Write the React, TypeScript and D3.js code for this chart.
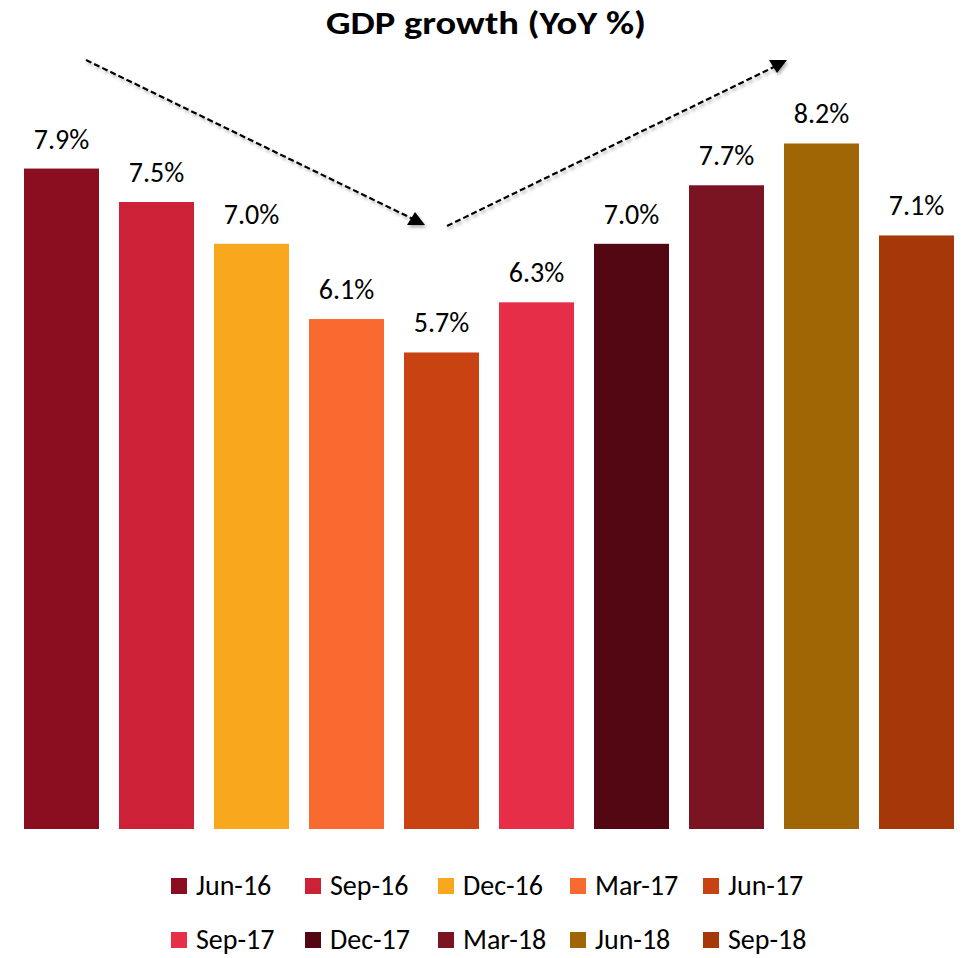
import React from "react";
import * as d3 from "d3";

const categories = ["Jun-16", "Sep-16", "Dec-16", "Mar-17", "Jun-17", "Sep-17", "Dec-17", "Mar-18", "Jun-18", "Sep-18"];
const values = [7.9, 7.5, 7.0, 6.1, 5.7, 6.3, 7.0, 7.7, 8.2, 7.1];
const colors = ["#8B0D20", "#CC2136", "#F9A81E", "#F96A30", "#C94212", "#E62E48", "#530712", "#7B1422", "#A06504", "#A53709"];
const title = "GDP growth (YoY %)";

const W = 966;
const H = 958;
const FONT = "Carlito, Lato, 'Open Sans', sans-serif";

export default function App() {
  const x = d3.scaleBand<string>().domain(categories).range([14, 964]).paddingInner(0.2105).paddingOuter(0.1053);
  const y = d3.scaleLinear().domain([0, 9]).range([829, 829 - 9 * 83.6]);

  const legendRows = [categories.slice(0, 5), categories.slice(5)];
  const colX = [171, 305, 438, 570, 703];
  const rowY = [886, 940];

  return (
    <svg width={W} height={H} style={{ position: "absolute", left: 0, top: 0, background: "#fff" }}>
      <defs>
        <filter id="sh" x="-10%" y="-10%" width="120%" height="120%">
          <feDropShadow dx="1.5" dy="2.5" stdDeviation="1.5" floodColor="#000" floodOpacity="0.3" />
        </filter>
      </defs>
      <text x={486} y={34} textAnchor="middle" fontFamily={FONT} fontWeight="bold" fontSize={33} textLength={320} lengthAdjust="spacingAndGlyphs" fill="#000">{title}</text>

      {categories.map((c, i) => (
        <g key={c}>
          <rect x={x(c)} y={y(values[i])} width={x.bandwidth()} height={y(0) - y(values[i])} fill={colors[i]} />
          <text x={(x(c) as number) + x.bandwidth() / 2} y={y(values[i]) - 20} textAnchor="middle" fontFamily={FONT} fontSize={28} fill="#000">
            {values[i].toFixed(1) + "%"}
          </text>
        </g>
      ))}

      <g filter="url(#sh)" fill="#000">
        <line x1={86} y1={60} x2={413} y2={219} stroke="#000" strokeWidth={2.2} strokeDasharray="6,3" />
        <path d="M415,212 L425,225 L407,225 Z" />
        <line x1={447} y1={226} x2={776} y2={66} stroke="#000" strokeWidth={2.2} strokeDasharray="6,3" />
        <path d="M769,60 L787,60 L777,73 Z" />
      </g>

      {legendRows.map((row, r) =>
        row.map((c, j) => {
          const idx = r * 5 + j;
          return (
            <g key={c}>
              <rect x={colX[j]} y={rowY[r] - 8} width={16} height={16} fill={colors[idx]} />
              <text x={colX[j] + 25} y={rowY[r] + 9} fontFamily={FONT} fontSize={28} fill="#000">{c}</text>
            </g>
          );
        })
      )}
    </svg>
  );
}
